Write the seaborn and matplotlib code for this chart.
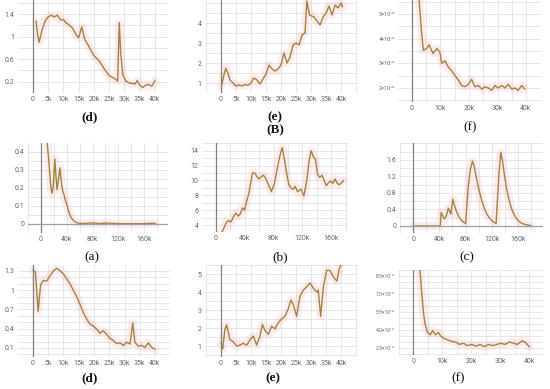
import matplotlib.pyplot as plt
import seaborn as sns
from matplotlib.ticker import MultipleLocator

sns.set_style("whitegrid")
plt.rcParams['font.family'] = ['Roboto', 'DejaVu Sans']

line_color = '#9f853a'
band_color = '#f6a9b8'
grid_color = '#e3e3e3'
tick_color = '#666666'

# ---- top row, (d): loss vs steps (k) ----
d1_x = [1, 1.5, 2, 3, 4, 5, 6, 7, 8, 9, 10, 11, 12, 13, 14, 15, 16, 17, 18, 19, 20,
        21, 22, 23, 24, 25, 26, 27, 27.8, 28.3, 28.8, 29.5, 30.5, 31.5, 32.5, 33.5,
        34.2, 35, 36, 37, 38, 39, 40]
d1_y = [1.28, 1.05, 0.90, 1.12, 1.28, 1.35, 1.38, 1.35, 1.38, 1.30, 1.30, 1.24, 1.20,
        1.15, 1.05, 0.98, 1.17, 0.95, 0.86, 0.76, 0.66, 0.61, 0.55, 0.46, 0.38, 0.31,
        0.28, 0.25, 0.21, 1.25, 0.70, 0.32, 0.21, 0.18, 0.17, 0.16, 0.22, 0.14, 0.10,
        0.14, 0.15, 0.12, 0.22]

# ---- top row, (e) ----
e1_x = [0.2, 1.0, 1.6, 2.3, 3, 4, 5, 6, 7, 8, 9, 10, 11, 12, 13, 14, 15, 16, 17, 18,
        19, 20, 21, 22, 23, 24, 25, 26, 27, 28, 28.6, 29.5, 31, 32, 33, 34, 35, 36, 37,
        38, 39, 40, 40.5]
e1_y = [0.85, 1.40, 1.73, 1.50, 1.15, 1.00, 0.85, 0.90, 0.85, 0.92, 0.88, 1.00, 1.25,
        1.15, 0.95, 1.20, 1.45, 1.90, 1.70, 1.60, 1.70, 1.90, 2.50, 2.00, 2.30, 2.90,
        3.00, 2.90, 3.40, 3.50, 5.10, 4.40, 4.30, 4.10, 3.90, 4.30, 4.50, 4.85, 4.40,
        4.90, 4.75, 5.00, 4.80]

# ---- top row, (f): values in units of 1e-2 ----
f1_x = [2.2, 3.0, 3.4, 4.0, 5.1, 6.0, 7.4, 8.7, 9.8, 10.4, 11.6, 12.7, 13.9, 15.1,
        16.1, 17.4, 18.6, 19.8, 20.9, 22.1, 23.3, 24.5, 25.6, 26.8, 28.0, 29.1, 30.2,
        31.5, 32.6, 33.8, 35.0, 36.1, 37.2, 38.5, 39.6]
f1_y = [6.0, 4.8, 4.2, 3.53, 3.60, 3.75, 3.40, 3.60, 3.45, 3.00, 3.10, 2.85, 2.70,
        2.50, 2.35, 2.10, 2.05, 2.15, 2.35, 2.05, 2.10, 1.95, 2.05, 2.00, 1.90, 2.10,
        2.00, 2.10, 2.00, 2.15, 1.95, 2.00, 1.90, 2.10, 1.95]

# ---- middle row, (a) ----
a_x = [9, 12, 15, 17, 19, 21.5, 23, 25, 27, 29.5, 32, 34, 36, 38, 40, 43, 46, 50, 55,
       60, 70, 80, 90, 100, 120, 140, 160, 175, 178]
a_y = [0.48, 0.36, 0.22, 0.17, 0.20, 0.36, 0.28, 0.19, 0.24, 0.31, 0.22, 0.18, 0.16,
       0.13, 0.11, 0.07, 0.04, 0.02, 0.008, 0.003, 0.003, 0.006, 0.002, 0.005, 0.002,
       0.001, 0.002, 0.004, 0.001]

# ---- middle row, (b) ----
b_x = [8, 10, 15, 18, 21, 25, 28, 31, 34, 37, 40, 43, 46, 48, 51, 54, 57, 60, 63, 66,
       69, 72, 75, 77, 81, 84, 87, 90, 92, 95, 98, 101, 104, 107, 110, 113, 118, 122,
       126, 129, 132, 135, 138, 141, 144, 147, 150, 153, 156, 159, 162, 165, 168, 171,
       174, 177]
b_y = [3.0, 3.3, 4.4, 4.6, 4.4, 5.2, 5.6, 5.2, 5.5, 6.3, 6.0, 7.3, 8.3, 9.5, 11.0,
       11.0, 10.5, 10.2, 10.5, 10.7, 10.3, 9.6, 9.0, 8.5, 9.5, 11.0, 12.5, 13.8, 14.4,
       12.8, 11.0, 9.5, 9.0, 8.8, 9.2, 8.5, 8.8, 7.9, 10.0, 12.5, 14.0, 13.2, 12.8,
       10.8, 10.4, 10.7, 10.0, 9.3, 9.7, 9.9, 9.6, 10.2, 9.6, 9.4, 9.7, 10.0]

# ---- middle row, (c) ----
c_x = [0, 20, 40, 41.5, 42.7, 45, 47.5, 50, 53.8, 56, 57.5, 60.5, 63, 66, 70, 74, 78,
       80, 81.5, 84, 87, 90.4, 93, 96, 100, 104, 108, 112, 116, 120, 124, 126.5, 128,
       131, 133.6, 136, 139, 142, 146, 150, 155, 160, 165, 170, 175, 180]
c_y = [0, 0, 0, 0.02, 0.33, 0.25, 0.17, 0.22, 0.43, 0.35, 0.29, 0.65, 0.50, 0.35,
       0.22, 0.13, 0.08, 0.06, 0.40, 0.95, 1.35, 1.57, 1.45, 1.20, 0.90, 0.65, 0.45,
       0.30, 0.20, 0.13, 0.08, 0.06, 0.50, 1.30, 1.78, 1.60, 1.25, 0.95, 0.65, 0.42,
       0.24, 0.13, 0.07, 0.04, 0.02, 0.01]

# ---- bottom row, (d) ----
d2_x = [0, 0.8, 1.7, 2.5, 3.4, 4.5, 5.6, 6.7, 7.8, 8.9, 10, 11, 12.1, 13.2, 14.3, 15.4,
        16.5, 17.6, 18.7, 19.8, 20.9, 22, 23, 24.2, 25.2, 26.3, 27.4, 28.5, 29.6, 30.7,
        31.8, 32.7, 33.4, 34.5, 35.6, 36.7, 37.8, 38.9, 40]
d2_y = [1.31, 1.28, 0.67, 1.08, 1.15, 1.14, 1.22, 1.30, 1.34, 1.30, 1.25, 1.18, 1.10,
        1.00, 0.90, 0.78, 0.65, 0.55, 0.47, 0.44, 0.39, 0.33, 0.37, 0.31, 0.25, 0.22,
        0.17, 0.18, 0.14, 0.19, 0.16, 0.49, 0.19, 0.13, 0.14, 0.11, 0.18, 0.11, 0.08]

# ---- bottom row, (e) ----
e2_x = [0, 0.6, 1.3, 1.9, 3, 4.1, 5.2, 6.3, 7.4, 8.6, 9.7, 10.8, 11.9, 13, 13.8, 14.7,
        15.8, 16.9, 18, 19.1, 20.2, 21.3, 22.4, 23.3, 24.1, 25.2, 26.3, 27.4, 28.6,
        29.7, 30.8, 31.9, 32.4, 33.2, 34.1, 35.2, 36.3, 37.4, 38.6, 39.4, 40.2]
e2_y = [1.17, 0.84, 1.90, 2.18, 1.35, 1.25, 1.00, 1.05, 1.15, 1.05, 1.35, 1.55, 1.05,
        1.55, 2.20, 1.85, 1.65, 2.10, 1.95, 2.30, 2.50, 2.65, 3.05, 3.55, 3.30, 2.65,
        3.75, 4.10, 4.30, 4.50, 4.20, 4.00, 4.10, 2.65, 4.30, 5.20, 5.20, 4.85, 4.60,
        5.30, 5.60]

# ---- bottom row, (f): values in units of 1e-2 ----
f2_x = [2.2, 3.0, 3.6, 4.1, 4.9, 5.9, 6.8, 7.7, 8.7, 9.5, 10.7, 11.8, 13.3, 14.8, 16,
        17.4, 18.7, 20.2, 21.7, 23.1, 24.5, 26, 27.5, 28.9, 30.2, 31.7, 33.2, 34.6, 36,
        37.5, 38.6, 40.1]
f2_y = [9.5, 7.05, 5.40, 4.55, 3.85, 3.60, 3.95, 3.60, 3.80, 3.50, 3.30, 3.20, 3.05,
        3.00, 2.80, 2.90, 2.70, 2.80, 2.65, 2.80, 2.60, 2.80, 2.70, 2.80, 2.90, 2.80,
        3.00, 2.90, 2.80, 3.10, 3.00, 2.60]

# tick labels
k40_ticks = [0, 5, 10, 15, 20, 25, 30, 35, 40]
k40_labels = ['0', '5k', '10k', '15k', '20k', '25k', '30k', '35k', '40k']
k40_f_ticks = [0, 10, 20, 30, 40]
k40_f_labels = ['0', '10k', '20k', '30k', '40k']
k160_ticks = [0, 40, 80, 120, 160]
k160_labels = ['0', '40k', '80k', '120k', '160k']

fig = plt.figure(figsize=(5.5, 3.89), dpi=100)
W, H = 550, 389


def panel(px, x, y, xlim, ylim, xt, xl, yt, yl, xgrid, ygrid, zero_h=False, yfs=5):
    x0, y0, x1, y1 = px
    ax = fig.add_axes([x0 / W, 1 - y1 / H, (x1 - x0) / W, (y1 - y0) / H])
    # faint pink "raw" halo, then the smoothed curve on top
    sns.lineplot(x=x, y=y, ax=ax, color=band_color, linewidth=6, alpha=0.22)
    sns.lineplot(x=x, y=y, ax=ax, color=line_color, linewidth=1.0)
    ax.set_xlim(*xlim)
    ax.set_ylim(*ylim)
    ax.set_xticks(xt)
    ax.set_xticklabels(xl)
    ax.set_yticks(yt)
    ax.set_yticklabels(yl)
    ax.xaxis.set_minor_locator(MultipleLocator(xgrid))
    ax.yaxis.set_minor_locator(MultipleLocator(ygrid))
    ax.grid(which='both', color=grid_color, linewidth=0.6)
    ax.tick_params(which='both', length=0, colors=tick_color, pad=2.5)
    ax.tick_params(axis='x', labelsize=5)
    ax.tick_params(axis='y', labelsize=yfs)
    ax.set_xlabel('')
    ax.set_ylabel('')
    for s in ax.spines.values():
        s.set_visible(False)
    ax.axvline(0, color='#808080', linewidth=0.9)
    if zero_h:
        ax.axhline(0, color='#a0a0a0', linewidth=0.9)
    ax.set_facecolor('white')
    return ax


# top row
panel((18, 0, 168, 93), d1_x, d1_y, (-4.9, 44.3), (0.0, 1.65),
      k40_ticks, k40_labels, [0.2, 0.6, 1.0, 1.4], ['0.2', '0.6', '1', '1.4'], 5, 0.2)
panel((205, 0, 357, 93), e1_x, e1_y, (-5.3, 45.3), (0.5, 5.15),
      k40_ticks, k40_labels, [1, 2, 3, 4], ['1', '2', '3', '4'], 5, 0.5)
panel((398, 0, 540, 102), f1_x, f1_y, (-4.9, 44.9), (1.43, 5.57),
      k40_f_ticks, k40_f_labels, [2, 3, 4, 5],
      ['2×10⁻²', '3×10⁻²', '4×10⁻²', '5×10⁻²'], 5, 0.5, yfs=4)

# middle row
panel((28, 143, 168, 233), a_x, a_y, (-20, 197), (-0.05, 0.448),
      k160_ticks, k160_labels, [0, 0.1, 0.2, 0.3, 0.4], ['0', '0.1', '0.2', '0.3', '0.4'],
      20, 0.05, zero_h=True)
panel((202, 143, 348, 232), b_x, b_y, (-19, 183), (3.06, 15.03),
      k160_ticks, k160_labels, [4, 6, 8, 10, 12, 14], ['4', '6', '8', '10', '12', '14'],
      20, 1)
panel((400, 143, 543, 233), c_x, c_y, (-20, 198), (-0.17, 2.01),
      k160_ticks, k160_labels, [0, 0.4, 0.8, 1.2, 1.6], ['0', '0.4', '0.8', '1.2', '1.6'],
      20, 0.2, zero_h=True)

# bottom row
panel((18, 265, 170, 357), d2_x, d2_y, (-4.9, 44.9), (-0.04, 1.39),
      k40_ticks, k40_labels, [0.1, 0.4, 0.7, 1.0, 1.3], ['0.1', '0.4', '0.7', '1', '1.3'],
      5, 0.1)
panel((205, 265, 357, 357), e2_x, e2_y, (-5.3, 45.3), (0.39, 5.5),
      k40_ticks, k40_labels, [1, 2, 3, 4, 5], ['1', '2', '3', '4', '5'], 5, 0.5)
panel((398, 270, 543, 355), f2_x, f2_y, (-5.2, 44.8), (1.92, 9.0),
      k40_f_ticks, k40_f_labels, [2.5, 4.0, 5.5, 7.0, 8.5],
      ['2.5×10⁻²', '4.0×10⁻²', '5.5×10⁻²', '7.0×10⁻²', '8.5×10⁻²'], 5, 0.5, yfs=3.6)

# captions
captions = [('(d)', 90, 117, 'bold'), ('(e)', 275, 117, 'bold'), ('(B)', 275, 130, 'bold'),
            ('(f)', 470, 127, 'normal'), ('(a)', 92, 257, 'normal'),
            ('(b)', 280, 257, 'normal'), ('(c)', 467, 257, 'normal'),
            ('(d)', 90, 378, 'bold'), ('(e)', 273, 378, 'bold'), ('(f)', 458, 378, 'normal')]
for txt, cx, cy, wt in captions:
    fig.text(cx / W, 1 - cy / H, txt, ha='center', va='center', fontsize=9.5,
             fontweight=wt, family=['Liberation Serif', 'DejaVu Serif'], color='#111111')

fig.savefig('out.png', dpi=100, facecolor='white')
